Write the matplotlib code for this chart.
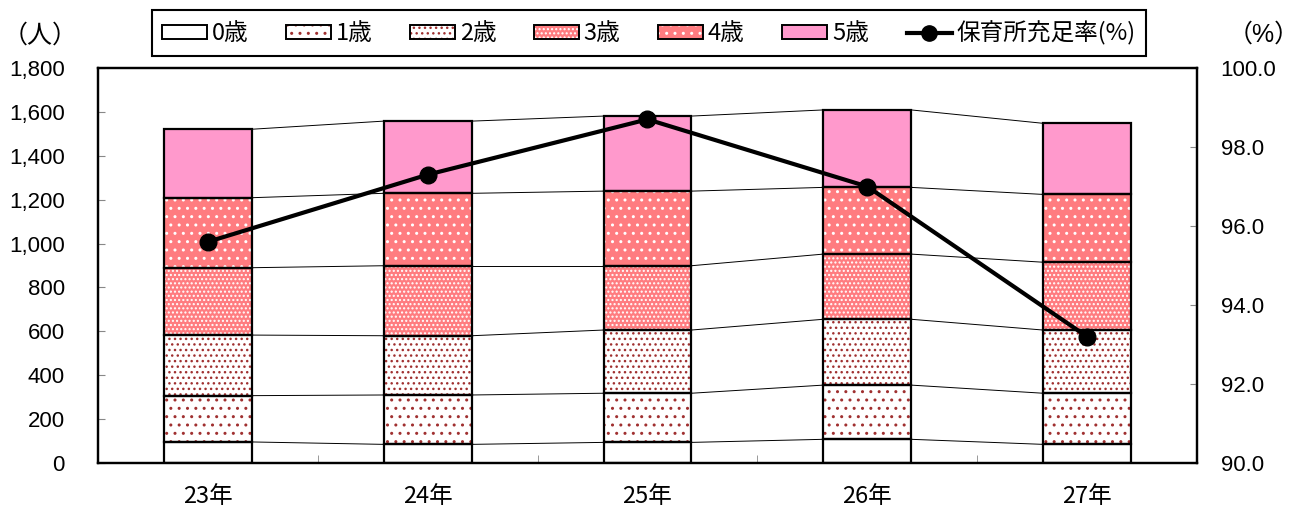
#!/usr/bin/env python3

import matplotlib
matplotlib.use('Agg')
import matplotlib.pyplot as plt
from matplotlib.patches import Patch
from matplotlib.lines import Line2D
from matplotlib.ticker import FuncFormatter
import numpy as np

plt.rcParams['font.family'] = ['Liberation Sans', 'Noto Sans CJK JP', 'DejaVu Sans']
plt.rcParams['hatch.linewidth'] = 1.0

# data
years = ['23年', '24年', '25年', '26年', '27年']
age_labels = ['0歳', '1歳', '2歳', '3歳', '4歳', '5歳']
age0 = [96, 85, 94, 108, 85]
age1 = [211, 225, 224, 247, 233]
age2 = [276, 270, 288, 300, 288]
age3 = [307, 319, 293, 297, 309]
age4 = [319, 330, 340, 304, 309]
age5 = [312, 329, 342, 353, 324]
rate = [95.6, 97.3, 98.7, 97.0, 93.2]
rate_label = '保育所充足率(%)'

# fill colour, hatch, hatch colour for each age
styles = [
    ('white', None, 'black'),
    ('white', '..', '#A03030'),
    ('white', '...', '#A03030'),
    ('#FF7C80', '....', 'white'),
    ('#FF7C80', '..', 'white'),
    ('#FF99CC', None, 'black'),
]

JP = ['Noto Sans CJK JP', 'DejaVu Sans']


def plot_chart(output='out.png'):
    fig = plt.figure(figsize=(13.08, 5.11), dpi=100)
    ax = fig.add_axes([0.0749, 0.0939, 0.8402, 0.7730])

    series = [age0, age1, age2, age3, age4, age5]
    x = np.arange(len(years))
    width = 0.4
    bottom = np.zeros(len(years))
    handles = []
    for vals, (fc, hatch, hc), lab in zip(series, styles, age_labels):
        vals = np.array(vals, dtype=float)
        # fill + hatch (hatch colour comes from edgecolor)
        ax.bar(x, vals, width, bottom=bottom, color=fc, hatch=hatch,
               edgecolor=hc, linewidth=0, zorder=2)
        # black outline
        ax.bar(x, vals, width, bottom=bottom, fill=False,
               edgecolor='black', linewidth=1.6, zorder=3)
        top = bottom + vals
        # thin series lines between bars
        for i in range(len(years) - 1):
            ax.plot([x[i] + width / 2, x[i + 1] - width / 2], [top[i], top[i + 1]],
                    color='black', linewidth=0.7, zorder=1)
        h1 = Patch(facecolor=fc, hatch=hatch, edgecolor=hc, linewidth=0)
        h2 = Patch(fill=False, edgecolor='black', linewidth=1.4)
        handles.append((h1, h2))
        bottom = top

    ax.set_xlim(-0.5, len(years) - 0.5)
    ax.set_ylim(0, 1800)
    ax.set_yticks(np.arange(0, 1801, 200))
    ax.yaxis.set_major_formatter(FuncFormatter(lambda v, p: f'{int(v):,}'))
    ax.set_xticks(x)
    ax.set_xticklabels(years, fontfamily=JP, fontsize=17)
    ax.set_xticks(x[:-1] + 0.5, minor=True)
    ax.tick_params(axis='x', which='major', length=0, pad=16)
    ax.tick_params(axis='x', which='minor', direction='in', length=6, color='#888888')
    ax.tick_params(axis='y', direction='in', length=5, color='#888888', pad=24, labelsize=16)
    for s in ax.spines.values():
        s.set_linewidth(1.6)

    ax2 = ax.twinx()
    ax2.plot(x, rate, color='black', linewidth=3, marker='o', markersize=12, zorder=5)
    ax2.set_ylim(90, 100)
    ax2.set_yticks(np.arange(90, 100.1, 2))
    ax2.yaxis.set_major_formatter(FuncFormatter(lambda v, p: f'{v:.1f}'))
    ax2.tick_params(axis='y', direction='in', length=5, color='#888888', pad=17, labelsize=16)
    for s in ax2.spines.values():
        s.set_linewidth(1.6)

    fig.text(0.031, 0.93, '（人）', fontsize=18, ha='center', va='center', family=JP)
    fig.text(0.9665, 0.932, '（%）', fontsize=18, ha='center', va='center')

    line_h = Line2D([], [], color='black', linewidth=3, marker='o', markersize=11)
    leg = fig.legend(handles + [line_h], age_labels + [rate_label],
                     loc='upper center', bbox_to_anchor=(0.496, 0.980), ncol=7,
                     prop={'family': JP, 'size': 17}, frameon=True, fancybox=False,
                     edgecolor='black', framealpha=1, handlelength=1.9, handleheight=0.55,
                     handletextpad=0.2, columnspacing=1.6, borderpad=0.45,
                     borderaxespad=0)
    leg.get_frame().set_linewidth(1.5)

    fig.savefig(output, dpi=100)


if __name__ == "__main__":
    plot_chart()
